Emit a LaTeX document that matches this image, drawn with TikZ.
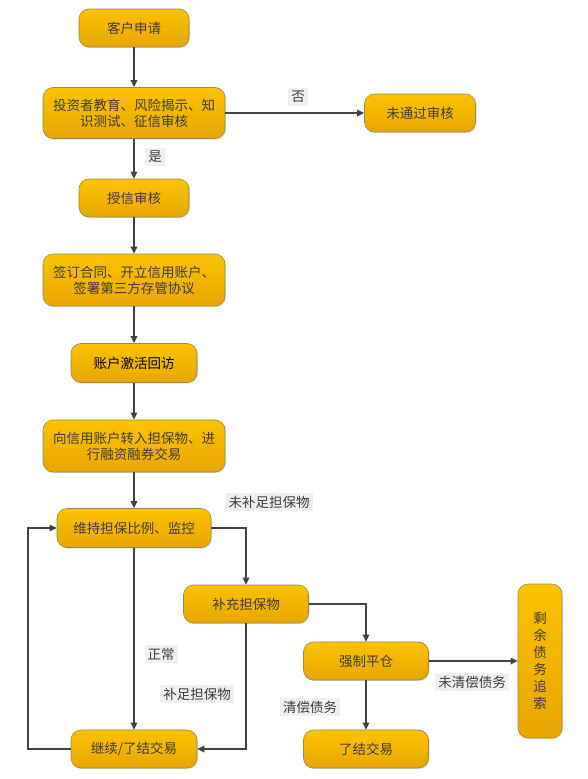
\documentclass[tikz,border=0pt]{standalone}
\usepackage{fontspec}
\newfontfamily\cjk{Noto Sans CJK SC}
\usetikzlibrary{arrows.meta,shadows}
\definecolor{boxtop}{HTML}{FCC300}
\definecolor{boxbot}{HTML}{E8A600}
\definecolor{boxline}{HTML}{9C8846}
\definecolor{arr}{HTML}{424242}
\definecolor{txt}{HTML}{3C3C3C}
\definecolor{lblbg}{HTML}{F0F0F0}
\begin{document}
\begin{tikzpicture}[x=1pt,y=-1pt,
  every node/.style={font=\cjk\fontsize{13.5}{16}\selectfont},
  flowbox/.style={draw=boxline,line width=0.6pt,rounded corners=10pt,
    top color=boxtop,bottom color=boxbot,text=txt,align=center,inner sep=2pt,
    drop shadow={shadow xshift=1pt,shadow yshift=-1.2pt,opacity=0.25}},
  lbl/.style={fill=lblbg,text=txt,inner sep=3pt},
  conn/.style={draw=arr,line width=1.6pt,-{Triangle[length=7pt,width=6.5pt]}}]
\useasboundingbox (0,0) rectangle (588,779);
\fill[white] (0,0) rectangle (588,779);
\node[flowbox,minimum width=110pt,minimum height=38pt] (n1) at (134,28) {客户申请};
\node[flowbox,minimum width=182pt,minimum height=51pt] (n2) at (134,113) {投资者教育、风险揭示、知\\识测试、征信审核};
\node[flowbox,minimum width=111pt,minimum height=38pt] (n3) at (420,113) {未通过审核};
\node[flowbox,minimum width=110pt,minimum height=38pt] (n4) at (134,198) {授信审核};
\node[flowbox,minimum width=182pt,minimum height=52pt] (n5) at (134,280) {签订合同、开立信用账户、\\签署第三方存管协议};
\node[flowbox,minimum width=126pt,minimum height=39pt,text=black] (n6) at (134,363) {账户激活回访};
\node[flowbox,minimum width=182pt,minimum height=52pt] (n7) at (134,446) {向信用账户转入担保物、进\\行融资融券交易};
\node[flowbox,minimum width=154pt,minimum height=39pt] (n8) at (134,528) {维持担保比例、监控};
\node[flowbox,minimum width=125pt,minimum height=38pt] (n9) at (246,604) {补充担保物};
\node[flowbox,minimum width=125pt,minimum height=38pt] (n10) at (366,661) {强制平仓};
\node[flowbox,minimum width=44pt,minimum height=154pt,font=\cjk\fontsize{13.5}{17}\selectfont] (n11) at (540,661) {剩\\余\\债\\务\\追\\索};
\node[flowbox,minimum width=125pt,minimum height=38pt] (n12) at (366,749) {了结交易};
\node[flowbox,minimum width=126pt,minimum height=38pt] (n13) at (134,749) {继续/了结交易};
\coordinate (lp) at (28,749);
\draw[conn] (n1) -- (n2);
\draw[conn] (n2) -- (n3);
\draw[conn] (n2) -- (n4);
\draw[conn] (n4) -- (n5);
\draw[conn] (n5) -- (n6);
\draw[conn] (n6) -- (n7);
\draw[conn] (n7) -- (n8);
\draw[conn] (n8.east) -| (n9.north);
\draw[conn] (n9.east) -| (n10.north);
\draw[conn] (n10) -- (n11);
\draw[conn] (n10) -- (n12);
\draw[conn] (n8) -- (n13);
\draw[conn] (n9.south) |- (n13.east);
\draw[conn] (n13.west) -- (lp) |- (n8.west);
\node[lbl] (l1) at (298,97) {否};
\node[lbl] (l2) at (155,157) {是};
\node[lbl] (l3) at (269,502) {未补足担保物};
\node[lbl] (l4) at (161,654) {正常};
\node[lbl] (l5) at (197,694) {补足担保物};
\node[lbl] (l6) at (472,682) {未清偿债务};
\node[lbl] (l7) at (310,707) {清偿债务};
\end{tikzpicture}
\end{document}
